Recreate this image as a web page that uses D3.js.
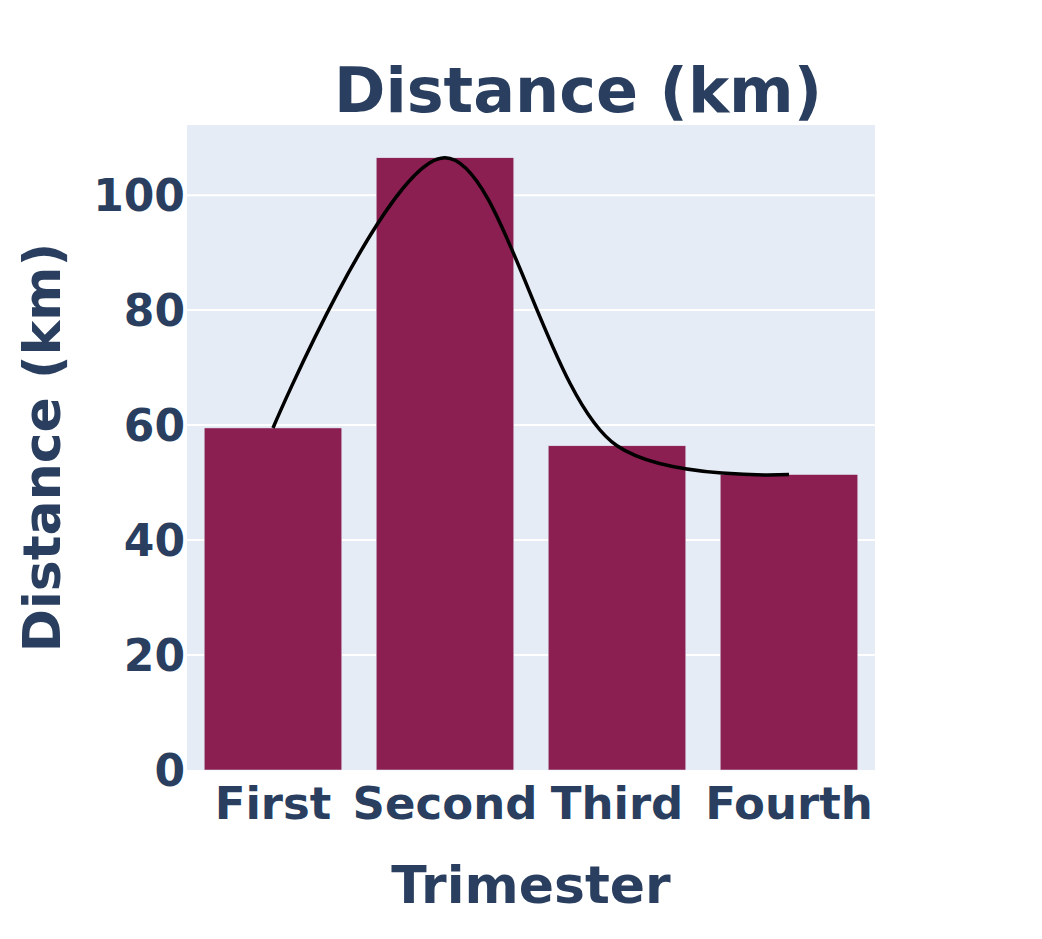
<!DOCTYPE html>
<html>
<head>
<meta charset="utf-8">
<script src="https://cdn.jsdelivr.net/npm/d3@7"></script>
<style>
  body { margin: 0; background: #fff; }
  svg text { font-family: "DejaVu Sans", sans-serif; font-weight: bold; fill: #2a3f5f; }
</style>
</head>
<body>
<div id="chart"></div>
<script>
// data
const trimesters = ['First', 'Second', 'Third', 'Fourth'];
const distances = [59.5, 106.5, 56.4, 51.4];
const yTicks = [0, 20, 40, 60, 80, 100];

const width = 1042, height = 939;
const margin = { top: 125, right: 167, bottom: 169, left: 187 };
const innerW = width - margin.left - margin.right;
const innerH = height - margin.top - margin.bottom;

const svg = d3.select('#chart').append('svg')
    .attr('width', width)
    .attr('height', height);

const g = svg.append('g')
    .attr('transform', `translate(${margin.left},${margin.top})`);

const x = d3.scaleBand()
    .domain(trimesters)
    .range([0, innerW])
    .paddingInner(0.2)
    .paddingOuter(0.1);

const y = d3.scaleLinear()
    .domain([0, 112.2])
    .range([innerH, 0]);

// plot background
g.append('rect')
    .attr('width', innerW)
    .attr('height', innerH)
    .attr('fill', '#e5ecf6');

// gridlines
g.selectAll('.grid')
    .data(yTicks.filter(d => d > 0))
    .enter().append('line')
    .attr('x1', 0)
    .attr('x2', innerW)
    .attr('y1', d => y(d))
    .attr('y2', d => y(d))
    .attr('stroke', '#fff')
    .attr('stroke-width', 2);

// bars
g.selectAll('.bar')
    .data(distances)
    .enter().append('rect')
    .attr('x', (d, i) => x(trimesters[i]))
    .attr('y', d => y(d))
    .attr('width', x.bandwidth())
    .attr('height', d => innerH - y(d))
    .attr('fill', '#8b1f51')
    .attr('stroke', '#e5ecf6')
    .attr('stroke-width', 0.5);

// smoothed line through the bar tops
const line = d3.line()
    .x((d, i) => x(trimesters[i]) + x.bandwidth() / 2)
    .y(d => y(d))
    .curve(d3.curveCatmullRom.alpha(0.5));

g.append('path')
    .datum(distances)
    .attr('d', line)
    .attr('fill', 'none')
    .attr('stroke', '#000')
    .attr('stroke-width', 3.5);

// y tick labels
g.selectAll('.ytick')
    .data(yTicks)
    .enter().append('text')
    .attr('x', -2)
    .attr('y', d => y(d))
    .attr('dy', '0.36em')
    .attr('text-anchor', 'end')
    .style('font-size', '44px')
    .text(d => d);

// x tick labels
g.selectAll('.xtick')
    .data(trimesters)
    .enter().append('text')
    .attr('x', d => x(d) + x.bandwidth() / 2)
    .attr('y', innerH + 49)
    .attr('text-anchor', 'middle')
    .style('font-size', '45px')
    .text(d => d);

// titles
svg.append('text')
    .attr('x', 578)
    .attr('y', 112)
    .attr('text-anchor', 'middle')
    .style('font-size', '62px')
    .text('Distance (km)');

svg.append('text')
    .attr('x', margin.left + innerW / 2)
    .attr('y', 903)
    .attr('text-anchor', 'middle')
    .style('font-size', '52px')
    .text('Trimester');

svg.append('text')
    .attr('transform', `translate(60,${margin.top + innerH / 2}) rotate(-90)`)
    .attr('text-anchor', 'middle')
    .style('font-size', '52px')
    .text('Distance (km)');
</script>
</body>
</html>
